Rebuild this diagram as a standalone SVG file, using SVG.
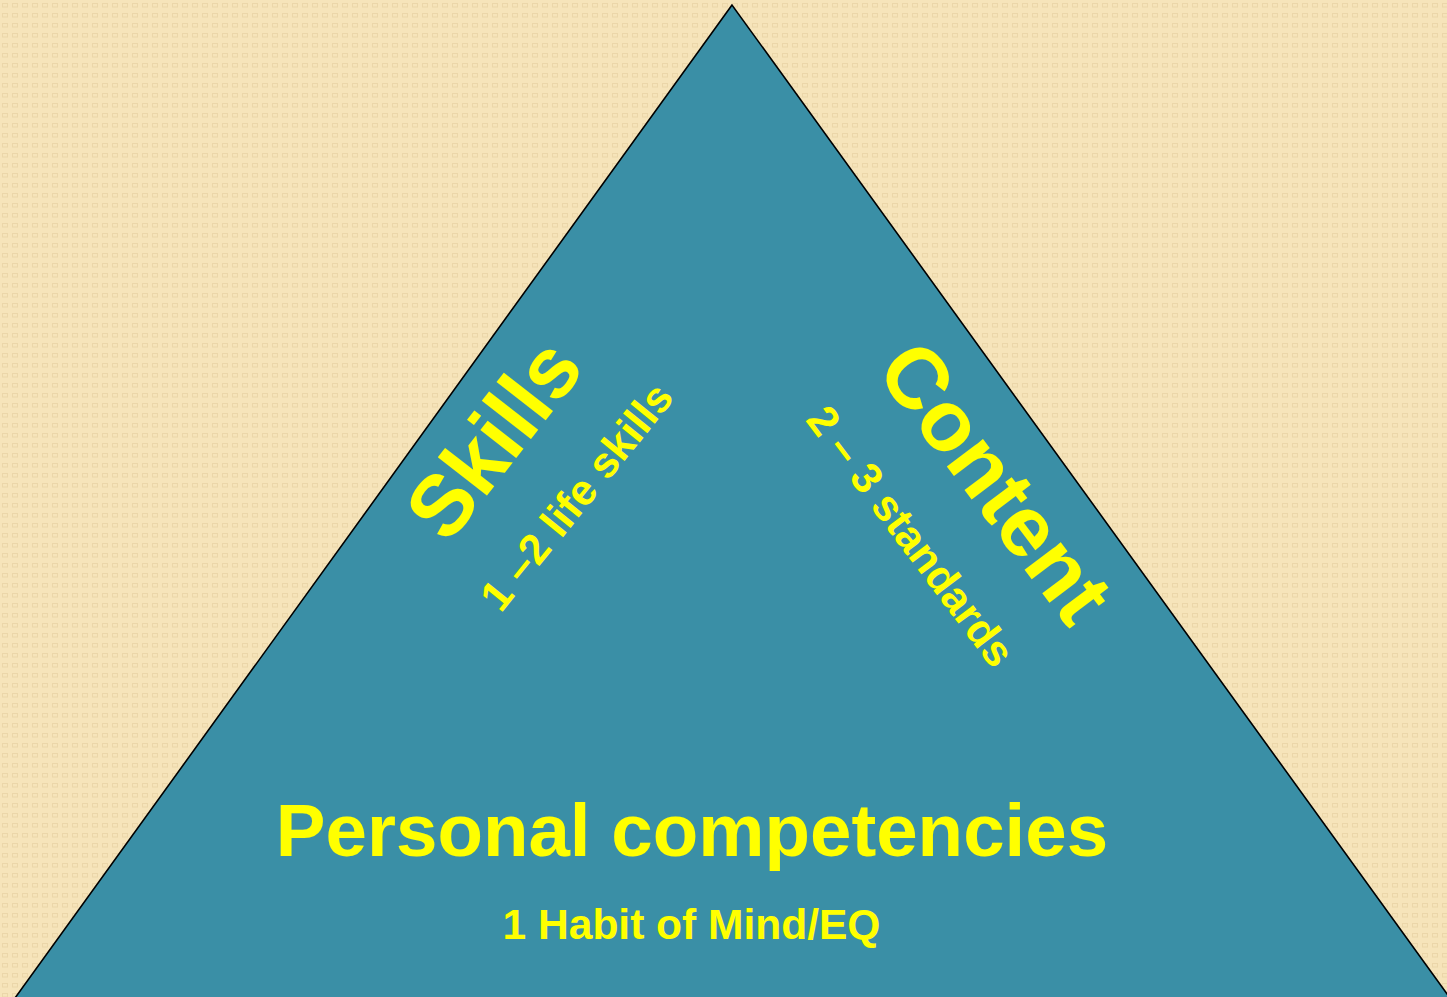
<svg xmlns="http://www.w3.org/2000/svg" width="1447" height="997" viewBox="0 0 1447 997">
  <defs>
    <!-- woven tan paper texture -->
    <pattern id="weave" width="10" height="10" patternUnits="userSpaceOnUse">
      <rect width="10" height="10" fill="#F6E4BA"/>
      <rect x="2.5" y="3.5" width="5" height="3.5" fill="none" stroke="#EBD6A9" stroke-width="1"/>
    </pattern>
    <style>
      .lbl { font-family: "Liberation Sans", Arial, sans-serif; font-weight: bold; fill: #FFFF00; text-anchor: middle; }
      .big { font-size: 86px; }
      .sub { font-size: 43px; }
      .tri { fill: #3A8FA6; stroke: #000000; stroke-width: 1.6; stroke-linejoin: miter; }
    </style>
  </defs>

  <rect id="background" width="1447" height="997" fill="url(#weave)"/>

  <g id="triangle">
    <polygon class="tri" points="732,5 15,998 1450,998"/>
  </g>

  <g id="skills">
    <text class="lbl big" transform="translate(517,457) rotate(-52)">Skills</text>
    <text class="lbl sub" transform="translate(588,506) rotate(-51)">1 –2 life skills</text>
  </g>

  <g id="content">
    <text class="lbl big" transform="translate(972,500) rotate(53)">Content</text>
    <text class="lbl sub" transform="translate(899,545) rotate(53)">2 – 3 standards</text>
  </g>

  <g id="personal">
    <text class="lbl" style="font-size:74.5px" x="692" y="856">Personal competencies</text>
    <text class="lbl" style="font-size:42.5px" x="691.5" y="939">1 Habit of Mind/EQ</text>
  </g>
</svg>
